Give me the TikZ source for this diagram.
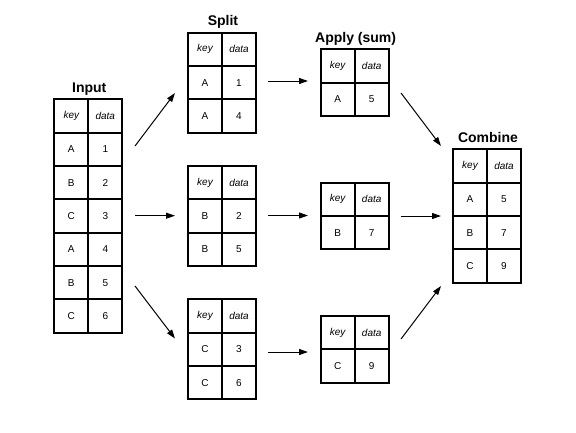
\documentclass[tikz,border=0pt]{standalone}
\usepackage{fontspec}
\setmainfont{Liberation Sans}
\usetikzlibrary{arrows.meta}

\tikzset{
  cell/.style={draw, line width=1.9pt, minimum width=34pt, minimum height=33.33pt, inner sep=0pt, font=\fontsize{10}{12}\selectfont},
  hdr/.style={cell, font=\fontsize{10}{12}\selectfont\itshape},
  ttl/.style={anchor=base, font=\fontsize{14}{16}\selectfont\bfseries},
  flow/.style={-{Triangle[length=9pt,width=6pt]}, line width=1pt}
}

% \kdtable{name}{left}{top}{key/data rows}
\newcommand{\kdtable}[4]{
  \node[hdr] (#1-0-k) at (#2+17,#3+16.67) {key};
  \node[hdr] (#1-0-d) at (#2+51,#3+16.67) {data};
  \foreach \k/\d [count=\i] in {#4} {
    \node[cell] (#1-\i-k) at (#2+17,#3+16.67+33.33*\i) {\k};
    \node[cell] (#1-\i-d) at (#2+51,#3+16.67+33.33*\i) {\d};
  }
}

\begin{document}
\begin{tikzpicture}[x=1pt, y=-1pt]
  \useasboundingbox (0,0) rectangle (576,432);

  % tables
  \kdtable{in}{54.3}{99.33}{A/1,B/2,C/3,A/4,B/5,C/6}
  \kdtable{sa}{188}{32.67}{A/1,A/4}
  \kdtable{sb}{188}{166}{B/2,B/5}
  \kdtable{sc}{188}{299.33}{C/3,C/6}
  \kdtable{aa}{320.7}{49.33}{A/5}
  \kdtable{ab}{320.7}{182.67}{B/7}
  \kdtable{ac}{320.7}{316}{C/9}
  \kdtable{co}{453}{149.33}{A/5,B/7,C/9}

  % titles
  \path (in-0-k.north east) ++(0,-6.3) node[ttl] (tin) {Input};
  \path (sa-0-k.north east) ++(0,-6.3) node[ttl] (tsplit) {Split};
  \path (aa-0-k.north east) ++(0,-6.3) node[ttl] (tapply) {Apply (sum)};
  \path (co-0-k.north east) ++(0,-6.3) node[ttl] (tcomb) {Combine};

  % arrows
  \foreach \xa/\ya/\xb/\yb [count=\n] in {135/146/175/93, 135/215.7/175/215.7, 135/286/175/338.5,
      268/81/308/81, 268/215.5/308/215.5, 268/352/308/352,
      401/93/441/146, 401/216/441/216, 401/339/441/286}
  {
    \coordinate (f\n) at (\xa,\ya);
    \coordinate (t\n) at (\xb,\yb);
    \draw[flow] (f\n) -- (t\n);
  }
\end{tikzpicture}
\end{document}
